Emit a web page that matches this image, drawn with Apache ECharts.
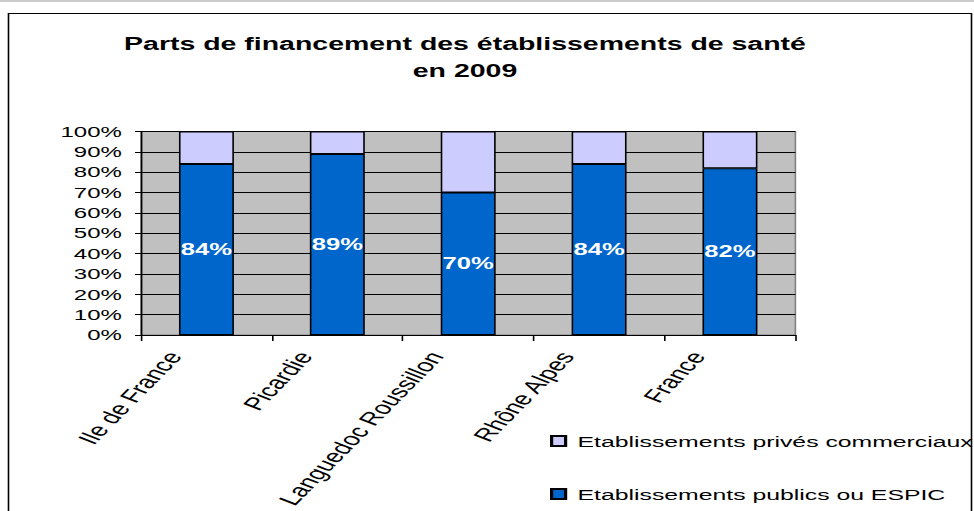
<!DOCTYPE html>
<html>
<head>
<meta charset="utf-8">
<script src="https://cdn.jsdelivr.net/npm/echarts@6/dist/echarts.min.js"></script>
<style>
    html, body { margin: 0; padding: 0; background: #fff; }
    #stage { width: 974px; height: 511px; overflow: hidden; position: relative; }
    /* the reference picture is stretched sideways, so the chart is drawn narrow and scaled */
    #chart { width: 608.75px; height: 511px; transform: scaleX(1.6); transform-origin: 0 0; }
</style>
</head>
<body>
<div id="stage"><div id="chart"></div></div>
<script>
const regions = ['Ile de France', 'Picardie', 'Languedoc Roussillon', 'Rhône Alpes', 'France']
const publicShare = [84, 89, 70, 84, 82]
const privateShare = [16, 11, 30, 16, 18]
const seriesNames = ['Etablissements publics ou ESPIC', 'Etablissements privés commerciaux']

const STRETCH = 1.6
const W = 974 / STRETCH
const px = x => x / STRETCH   // screen x -> chart x
const font = '"Liberation Sans", Arial, sans-serif'

const chart = echarts.init(document.getElementById('chart'), null, { renderer: 'svg' })

const option = {
    animation: false,
    backgroundColor: '#fff',
    title: {
        text: 'Parts de financement des établissements de santé\nen 2009',
        left: px(465),
        top: 31,
        padding: 0,
        textAlign: 'center',
        textStyle: {
            fontFamily: font,
            fontSize: 17.8,
            fontWeight: 'bold',
            lineHeight: 27,
            color: '#000'
        }
    },
    graphic: [
        {
            type: 'rect',
            shape: { x: 0, y: 0, width: W, height: 2 },
            style: { fill: '#cccccc' },
            silent: true
        },
        {
            type: 'rect',
            shape: { x: px(8.5), y: 13.5, width: px(963), height: 600 },
            style: { fill: 'none', stroke: '#000', lineWidth: 1 },
            silent: true
        }
    ],
    legend: {
        orient: 'vertical',
        left: px(550),
        top: 433,
        padding: 0,
        itemWidth: px(14),
        itemHeight: 10,
        itemGap: 37,
        icon: 'rect',
        data: [seriesNames[1], seriesNames[0]],
        textStyle: {
            fontFamily: font,
            fontSize: 15.5,
            color: '#000',
            padding: [0, 0, 0, 2.5]
        }
    },
    grid: {
        left: px(141),
        right: W - px(795),
        top: 131.5,
        bottom: 176,
        show: true,
        backgroundColor: '#C0C0C0',
        borderColor: '#808080',
        borderWidth: 1
    },
    xAxis: {
        type: 'category',
        data: regions,
        boundaryGap: true,
        axisLine: { show: true, lineStyle: { color: '#000', width: 1 } },
        axisTick: { show: true, length: 6, lineStyle: { color: '#000' } },
        axisLabel: {
            interval: 0,
            rotate: 58,
            margin: -14,
            padding: [0, 38, 0, 0],
            fontFamily: font,
            fontSize: 18,
            color: '#000'
        }
    },
    yAxis: {
        type: 'value',
        min: 0,
        max: 100,
        interval: 10,
        axisLine: { show: true, lineStyle: { color: '#000', width: 1 } },
        axisTick: { show: true, length: px(6), lineStyle: { color: '#000' } },
        axisLabel: {
            formatter: '{value}%',
            margin: 12,
            fontFamily: font,
            fontSize: 15,
            color: '#000'
        },
        splitLine: { show: true, lineStyle: { color: '#000', width: 1 } }
    },
    series: [
        {
            name: seriesNames[0],
            type: 'bar',
            stack: 'total',
            barWidth: '42%',
            data: publicShare,
            itemStyle: { color: '#0066CC', borderColor: '#000', borderWidth: 1 },
            label: {
                show: true,
                position: 'inside',
                formatter: '{c}%',
                color: '#fff',
                textBorderWidth: 0,
                fontFamily: font,
                fontWeight: 'bold',
                fontSize: 16
            },
            emphasis: { disabled: true }
        },
        {
            name: seriesNames[1],
            type: 'bar',
            stack: 'total',
            barWidth: '42%',
            data: privateShare,
            itemStyle: { color: '#CCCCFF', borderColor: '#000', borderWidth: 1 },
            emphasis: { disabled: true }
        }
    ]
}

chart.setOption(option)
</script>
</body>
</html>
